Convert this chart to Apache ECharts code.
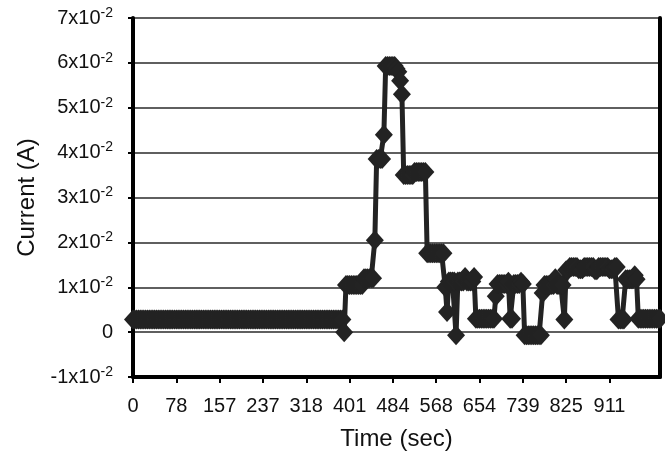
<!DOCTYPE html>
<html>
<head>
<meta charset="utf-8">
<script src="https://cdn.jsdelivr.net/npm/echarts@6/dist/echarts.min.js"></script>
<style>
  html, body { margin: 0; padding: 0; background: #ffffff; }
  #chart { width: 665px; height: 457px; }
</style>
</head>
<body>
<div id="chart"></div>
<script>
// Time stamps (s) printed under the x ticks, one tick every SAMPLES_PER_TICK samples
const timeTicks = [0, 78, 157, 237, 318, 401, 484, 568, 654, 739, 825, 911];
const SAMPLES_PER_TICK = 24;

// Logged current (A), stored as runs: currentLevels[k] is held for runSamples[k] samples
const currentLevels = [
  0.0028, 0.0000, 0.0105, 0.0120, 0.0205, 0.0386, 0.0440, 0.0593, 0.0587, 0.0580,
  0.0560, 0.0530, 0.0350, 0.0357, 0.0176, 0.0100, 0.0045, 0.0113, -0.0007, 0.0113,
  0.0123, 0.0113, 0.0123, 0.0030, 0.0080, 0.0107, 0.0112, 0.0030, 0.0107, 0.0112,
  0.0107, -0.0007, 0.0087, 0.0105, 0.0120, 0.0105, 0.0028, 0.0138, 0.0145, 0.0140,
  0.0145, 0.0138, 0.0145, 0.0140, 0.0145, 0.0028, 0.0118, 0.0127, 0.0118, 0.0030
];
const runSamples = [
  117, 1, 10, 6, 1, 4, 1, 6, 1, 1,
  1, 1, 6, 7, 10, 1, 1, 4, 1, 4,
  1, 4, 1, 11, 1, 6, 1, 2, 4, 1,
  1, 10, 1, 6, 1, 4, 1, 2, 5, 3,
  6, 2, 6, 3, 2, 4, 5, 1, 1, 13
];

// Y tick values (A)
const yMin = -0.01, yMax = 0.07, yStep = 0.01;

// Expand the runs into one value per sample
const current = [];
currentLevels.forEach((level, k) => {
  for (let n = 0; n < runSamples[k]; n++) current.push(level);
});
const sampleIndex = current.map((_, i) => String(i));

const isTick = (idx) => idx % SAMPLES_PER_TICK === 0 && idx / SAMPLES_PER_TICK < timeTicks.length;

const FONT = 'Liberation Sans, Arial, Helvetica, sans-serif';
const INK = '#232323';

const chart = echarts.init(document.getElementById('chart'), null, { renderer: 'canvas' });

chart.setOption({
  animation: false,
  backgroundColor: '#ffffff',
  grid: { left: 133, right: 5, top: 18, bottom: 80, containLabel: false },
  xAxis: {
    type: 'category',
    data: sampleIndex,
    boundaryGap: false,
    axisLine: { onZero: false, lineStyle: { color: '#000', width: 4 } },
    axisTick: { show: true, interval: isTick, length: 6, lineStyle: { color: '#000', width: 2 } },
    axisLabel: {
      interval: isTick,
      formatter: (v, idx) => String(timeTicks[idx / SAMPLES_PER_TICK]),
      margin: 19,
      fontSize: 20,
      fontFamily: FONT,
      color: '#111'
    },
    splitLine: { show: false },
    name: 'Time (sec)',
    nameLocation: 'middle',
    nameGap: 50,
    nameTextStyle: { fontSize: 24, fontFamily: FONT, color: '#111' }
  },
  yAxis: [
    {
      type: 'value',
      min: yMin, max: yMax, interval: yStep,
      axisLine: { show: true, onZero: false, lineStyle: { color: '#000', width: 4 } },
      axisTick: { show: true, length: 5, lineStyle: { color: '#000', width: 2 } },
      axisLabel: {
        margin: 20,
        formatter: (v) => {
          const k = Math.round(v * 100);
          return k === 0 ? '{n|0}' : '{n|' + k + 'x10}{e|-2}';
        },
        rich: {
          n: { fontSize: 20, lineHeight: 24, fontFamily: FONT, color: '#111' },
          e: { fontSize: 14, lineHeight: 14, verticalAlign: 'top', fontFamily: FONT, color: '#111' }
        }
      },
      splitLine: { show: true, lineStyle: { color: '#2a2a2a', width: 1.5 } },
      name: 'Current (A)',
      nameLocation: 'middle',
      nameGap: 94,
      nameTextStyle: { fontSize: 24, fontFamily: FONT, color: '#111' }
    },
    {
      type: 'value',
      position: 'right',
      min: yMin, max: yMax, interval: yStep,
      axisLine: { show: true, onZero: false, lineStyle: { color: '#000', width: 4 } },
      axisTick: { show: false },
      axisLabel: { show: false },
      splitLine: { show: false }
    }
  ],
  series: [
    {
      type: 'line',
      data: current,
      yAxisIndex: 0,
      symbol: 'diamond',
      symbolSize: [18, 20],
      showAllSymbol: true,
      clip: false,
      lineStyle: { color: INK, width: 5 },
      itemStyle: { color: INK },
      emphasis: { disabled: true },
      z: 3
    }
  ]
});
</script>
</body>
</html>
